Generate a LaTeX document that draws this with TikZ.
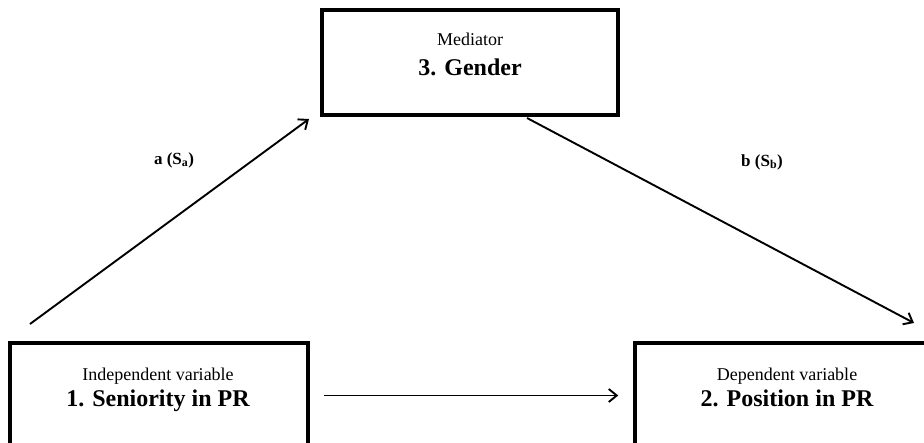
\documentclass[tikz,border=0pt]{standalone}
\usepackage{fontspec}
\setmainfont{Liberation Serif}
\usetikzlibrary{arrows.meta}
\begin{document}
\begin{tikzpicture}[x=1pt,y=-1pt,
  box/.style={draw, line width=3.5pt, minimum height=105pt, inner sep=0pt},
  link/.style={line width=1.9pt, -{Straight Barb[length=8pt,width=13pt,line width=1.9pt]}},
  role/.style={anchor=base, font=\fontsize{18}{21}\selectfont},
  varname/.style={anchor=base, font=\fontsize{24}{26}\selectfont\bfseries},
  path/.style={font=\fontsize{17}{19}\selectfont\bfseries}]
\useasboundingbox (0,0) rectangle (924,443);
\begin{scope}
\clip (0,0) rectangle (924,443);
% variable boxes
\node[box, minimum width=296pt] (med) at (470,62.5) {};
\node[box, minimum width=298pt] (ind) at (159,395.5) {};
\node[box, minimum width=304pt] (dep) at (787,395.5) {};
% box texts
\node[role] (medrole) at (470,46) {Mediator};
\node[varname] (medname) at (470,76) {3. Gender};
\node[role] (indrole) at (158,381) {Independent variable};
\node[varname] (indname) at (158,407) {1. Seniority in PR};
\node[role] (deprole) at (787,381) {Dependent variable};
\node[varname] (depname) at (787,407) {2. Position in PR};
% arrow end points
\coordinate (aS) at (30,324);
\coordinate (aE) at (309,119);
\coordinate (bS) at (527,118);
\coordinate (bE) at (914,323);
\coordinate (cS) at ([xshift=14pt]ind.east);
\coordinate (cE) at ([xshift=-15pt]dep.west);
\draw[link] (aS) -- (aE);
\draw[link] (bS) -- (bE);
\draw[link] (cS) -- (cE);
% path labels
\node[path] (alab) at (174,160) {a (S\textsubscript{a})};
\node[path] (blab) at (762,162) {b (S\textsubscript{b})};
\end{scope}
\end{tikzpicture}
\end{document}
